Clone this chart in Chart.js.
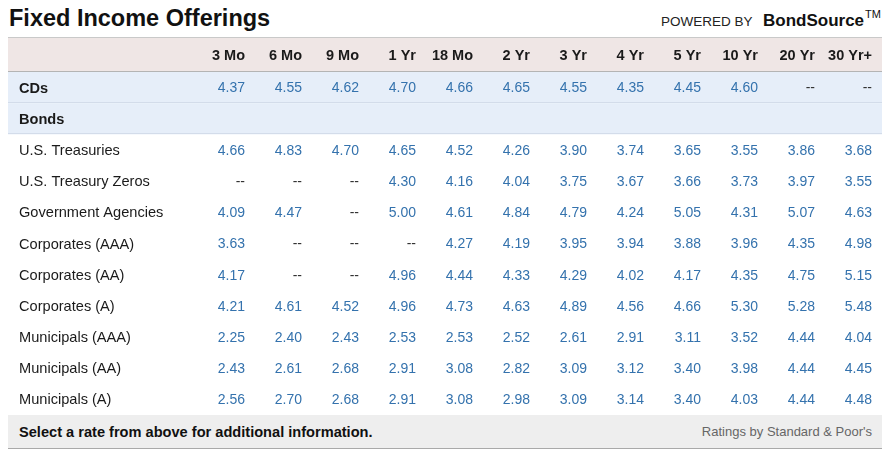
<!DOCTYPE html>
<html>
<head>
<meta charset="utf-8">
<title>Fixed Income Offerings</title>
<script src="https://cdn.jsdelivr.net/npm/chart.js@4.4.1/dist/chart.umd.min.js"></script>
<style>
    body { margin: 0; background: #fff; font-family: 'Liberation Sans', Arial, sans-serif; color: #222; }
    .page { position: relative; width: 886px; height: 454px; overflow: hidden; }
    .title { position: absolute; left: 9px; top: 7px; font-size: 23.5px; line-height: 1; font-weight: bold; color: #111; }
    .powered { position: absolute; left: 661px; top: 14.5px; font-size: 13.5px; line-height: 1; color: #222; }
    .brand { position: absolute; left: 763px; top: 11.5px; font-size: 17px; line-height: 1; font-weight: bold; color: #111; }
    .brand sup { font-size: 11px; font-weight: normal; vertical-align: top; position: relative; top: -3px; margin-left: 1px; }
    .table-wrap { position: absolute; left: 0; top: 37px; width: 886px; height: 378px; }
    .footer { position: absolute; left: 8px; top: 415px; width: 874px; height: 33px; background: #eeeeee; border-bottom: 1px solid #a9a9a9; display: flex; align-items: center; justify-content: space-between; }
    .footer .note { margin-left: 11px; font-size: 14.6px; font-weight: bold; color: #111; }
    .footer .credit { margin-right: 10px; font-size: 13px; color: #666; }
</style>
</head>
<body>
<div class="page">
    <div class="title">Fixed Income Offerings</div>
    <div class="powered">POWERED BY</div>
    <div class="brand">BondSource<sup>TM</sup></div>
    <div class="table-wrap"><canvas id="rateChart"></canvas></div>
    <div class="footer">
        <span class="note">Select a rate from above for additional information.</span>
        <span class="credit">Ratings by Standard &amp; Poor's</span>
    </div>
</div>

<script>
const terms = ['3 Mo', '6 Mo', '9 Mo', '1 Yr', '18 Mo', '2 Yr', '3 Yr', '4 Yr', '5 Yr', '10 Yr', '20 Yr', '30 Yr+'];
const rowNames = ['CDs', 'Bonds', 'U.S. Treasuries', 'U.S. Treasury Zeros', 'Government Agencies',
    'Corporates (AAA)', 'Corporates (AA)', 'Corporates (A)', 'Municipals (AAA)', 'Municipals (AA)', 'Municipals (A)'];
const boldRows = ['CDs', 'Bonds'];

// null = "--" (no offering)
const cds = [4.37, 4.55, 4.62, 4.70, 4.66, 4.65, 4.55, 4.35, 4.45, 4.60, null, null];
const treasuries = [4.66, 4.83, 4.70, 4.65, 4.52, 4.26, 3.90, 3.74, 3.65, 3.55, 3.86, 3.68];
const treasuryZeros = [null, null, null, 4.30, 4.16, 4.04, 3.75, 3.67, 3.66, 3.73, 3.97, 3.55];
const agencies = [4.09, 4.47, null, 5.00, 4.61, 4.84, 4.79, 4.24, 5.05, 4.31, 5.07, 4.63];
const corpAAA = [3.63, null, null, null, 4.27, 4.19, 3.95, 3.94, 3.88, 3.96, 4.35, 4.98];
const corpAA = [4.17, null, null, 4.96, 4.44, 4.33, 4.29, 4.02, 4.17, 4.35, 4.75, 5.15];
const corpA = [4.21, 4.61, 4.52, 4.96, 4.73, 4.63, 4.89, 4.56, 4.66, 5.30, 5.28, 5.48];
const muniAAA = [2.25, 2.40, 2.43, 2.53, 2.53, 2.52, 2.61, 2.91, 3.11, 3.52, 4.44, 4.04];
const muniAA = [2.43, 2.61, 2.68, 2.91, 3.08, 2.82, 3.09, 3.12, 3.40, 3.98, 4.44, 4.45];
const muniA = [2.56, 2.70, 2.68, 2.91, 3.08, 2.98, 3.09, 3.14, 3.40, 4.03, 4.44, 4.48];

const rowValues = {
    'CDs': cds,
    'U.S. Treasuries': treasuries,
    'U.S. Treasury Zeros': treasuryZeros,
    'Government Agencies': agencies,
    'Corporates (AAA)': corpAAA,
    'Corporates (AA)': corpAA,
    'Corporates (A)': corpA,
    'Municipals (AAA)': muniAAA,
    'Municipals (AA)': muniAA,
    'Municipals (A)': muniA
};

const FONT = "'Liberation Sans', Arial, sans-serif";
Chart.defaults.font.family = FONT;

// one dataset per row, each cell is a point at (term, row)
const datasets = Object.keys(rowValues).map(name => ({
    label: name,
    data: rowValues[name].map((v, i) => ({ x: terms[i], y: name, v: v })),
    showLine: false,
    pointRadius: 0,
    pointHoverRadius: 0
}));

// row shading + header band, drawn under everything
const tableBackground = {
    id: 'tableBackground',
    beforeDraw(chart) {
        const { ctx } = chart;
        const y = chart.scales.y;
        const band = y.getPixelForValue(1) - y.getPixelForValue(0);
        const left = 8, right = 882;
        const headerBottom = chart.chartArea.top;

        ctx.save();
        ctx.fillStyle = '#efe6e5';
        ctx.fillRect(left, 1, right - left, headerBottom - 1);
        ctx.fillStyle = '#c9c9c9';
        ctx.fillRect(left, 0, right - left, 1);
        ctx.fillStyle = '#b4b4b4';
        ctx.fillRect(left, headerBottom - 1, right - left, 1);

        boldRows.forEach(name => {
            const idx = rowNames.indexOf(name);
            const top = y.getPixelForValue(idx) - band / 2;
            ctx.fillStyle = '#e6eef9';
            ctx.fillRect(left, top, right - left, band);
            ctx.fillStyle = '#d3dcea';
            ctx.fillRect(left, Math.round(top + band) - 1, right - left, 1);
        });
        ctx.restore();
    }
};

// write each rate into its cell, right aligned on the term tick
const cellText = {
    id: 'cellText',
    afterDatasetsDraw(chart) {
        const { ctx } = chart;
        ctx.save();
        ctx.textAlign = 'right';
        ctx.textBaseline = 'middle';
        ctx.font = '14px ' + FONT;
        chart.data.datasets.forEach((ds, di) => {
            const meta = chart.getDatasetMeta(di);
            meta.data.forEach((pt, i) => {
                const v = ds.data[i].v;
                if (v === null) {
                    ctx.fillStyle = '#333';
                    ctx.fillText('--', pt.x, pt.y + 1);
                } else {
                    ctx.fillStyle = '#3472ad';
                    ctx.fillText(v.toFixed(2), pt.x, pt.y + 1);
                }
            });
        });
        ctx.restore();
    }
};

new Chart(document.getElementById('rateChart'), {
    type: 'line',
    data: { labels: terms, datasets: datasets },
    options: {
        responsive: true,
        maintainAspectRatio: false,
        animation: false,
        events: [],
        layout: { padding: { left: 19, right: 14, top: 0, bottom: 0 } },
        plugins: {
            legend: { display: false },
            tooltip: { enabled: false }
        },
        scales: {
            x: {
                type: 'category',
                position: 'top',
                labels: terms,
                offset: false,
                grid: { display: false, drawTicks: false },
                border: { display: false },
                ticks: {
                    align: 'end',
                    autoSkip: false,
                    maxRotation: 0,
                    padding: 7,
                    color: '#1a1a1a',
                    font: { size: 14.5, weight: 'bold' }
                },
                afterFit(scale) {
                    scale.height = 35;
                    scale.paddingLeft = 0;
                    scale.paddingRight = 0;
                }
            },
            y: {
                type: 'category',
                labels: rowNames,
                offset: true,
                grid: { display: false, drawTicks: false },
                border: { display: false },
                ticks: {
                    crossAlign: 'far',
                    autoSkip: false,
                    labelOffset: 1,
                    color: '#1a1a1a',
                    font: ctx => ({
                        size: 14.6,
                        weight: boldRows.includes(rowNames[ctx.index]) ? 'bold' : 'normal'
                    })
                },
                afterFit(scale) {
                    scale.width = 226;
                    scale.paddingTop = 0;
                    scale.paddingBottom = 0;
                }
            }
        }
    },
    plugins: [tableBackground, cellText]
});
</script>
</body>
</html>
